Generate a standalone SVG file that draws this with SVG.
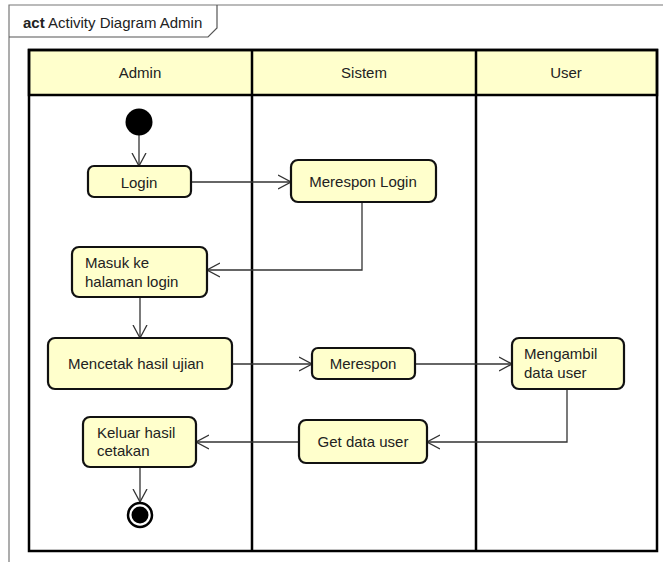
<svg xmlns="http://www.w3.org/2000/svg" width="663" height="562" viewBox="0 0 663 562">
<style>
text{font-family:"Liberation Sans",Arial,sans-serif;font-size:15px;fill:#222}
.node rect{fill:#FFFFCC;stroke:#111;stroke-width:2.2}
.lane{fill:none;stroke:#000;stroke-width:2.5}
.hdr{fill:#FFFFCC;stroke:#000;stroke-width:2.5}
.c{fill:none;stroke:#333;stroke-width:1.3}
.mid{text-anchor:middle}
</style>
<defs>
<marker id="arr" viewBox="0 0 14 16" refX="13" refY="8" markerWidth="14" markerHeight="16" markerUnits="userSpaceOnUse" orient="auto">
<path d="M0,1 L13,8 L0,15" fill="none" stroke="#333" stroke-width="1.3"/>
</marker>
</defs>
<rect width="663" height="562" fill="#fff"/>
<g id="frame">
<path d="M9,562 L9,5 L663,5" fill="none" stroke="#777" stroke-width="1.2"/>
<path d="M9,37 L208,37 L217,28 L217,5" fill="none" stroke="#555" stroke-width="1.2"/>
<text x="23" y="28"><tspan font-weight="bold">act</tspan> Activity Diagram Admin</text>
</g>
<g id="lanes">
<rect class="hdr" x="29" y="50" width="628" height="45"/>
<rect class="lane" x="29" y="50" width="628" height="501"/>
<line class="lane" x1="252" y1="50" x2="252" y2="551"/>
<line class="lane" x1="476" y1="50" x2="476" y2="551"/>
<text class="mid" x="140" y="78">Admin</text>
<text class="mid" x="364" y="78">Sistem</text>
<text class="mid" x="566" y="78">User</text>
</g>
<g id="connectors">
<line class="c" x1="139" y1="135" x2="139" y2="166" marker-end="url(#arr)"/>
<line class="c" x1="191" y1="182" x2="291" y2="182" marker-end="url(#arr)"/>
<polyline class="c" points="362,202 362,270 207,270" marker-end="url(#arr)"/>
<line class="c" x1="140" y1="297" x2="140" y2="338" marker-end="url(#arr)"/>
<line class="c" x1="232" y1="364" x2="312" y2="364" marker-end="url(#arr)"/>
<line class="c" x1="415" y1="364" x2="512" y2="364" marker-end="url(#arr)"/>
<polyline class="c" points="567,389 567,442 427,442" marker-end="url(#arr)"/>
<line class="c" x1="299" y1="442" x2="196" y2="442" marker-end="url(#arr)"/>
<line class="c" x1="140" y1="467" x2="140" y2="502" marker-end="url(#arr)"/>
</g>
<g id="start"><circle cx="139" cy="122" r="13.5" fill="#000"/></g>
<g id="login" class="node"><rect x="88" y="166" width="103" height="31" rx="6"/><text class="mid" x="139" y="188">Login</text></g>
<g id="merespon-login" class="node"><rect x="291" y="160" width="145" height="42" rx="7"/><text class="mid" x="363" y="187">Merespon Login</text></g>
<g id="masuk" class="node"><rect x="72" y="247" width="135" height="50" rx="7"/><text x="85" y="268">Masuk ke</text><text x="85" y="287">halaman login</text></g>
<g id="mencetak" class="node"><rect x="48" y="338" width="184" height="51" rx="7"/><text class="mid" x="136" y="369">Mencetak hasil ujian</text></g>
<g id="merespon" class="node"><rect x="312" y="348" width="103" height="31" rx="6"/><text class="mid" x="363" y="369">Merespon</text></g>
<g id="mengambil" class="node"><rect x="512" y="338" width="112" height="51" rx="7"/><text x="524" y="359">Mengambil</text><text x="524" y="378">data user</text></g>
<g id="getdata" class="node"><rect x="299" y="420" width="128" height="43" rx="7"/><text class="mid" x="363" y="447">Get data user</text></g>
<g id="keluar" class="node"><rect x="83" y="417" width="113" height="50" rx="7"/><text x="97" y="438">Keluar hasil</text><text x="97" y="456">cetakan</text></g>
<g id="end"><circle cx="140" cy="515" r="12" fill="#fff" stroke="#000" stroke-width="2.5"/><circle cx="140" cy="515" r="8.5" fill="#000"/></g>
</svg>
